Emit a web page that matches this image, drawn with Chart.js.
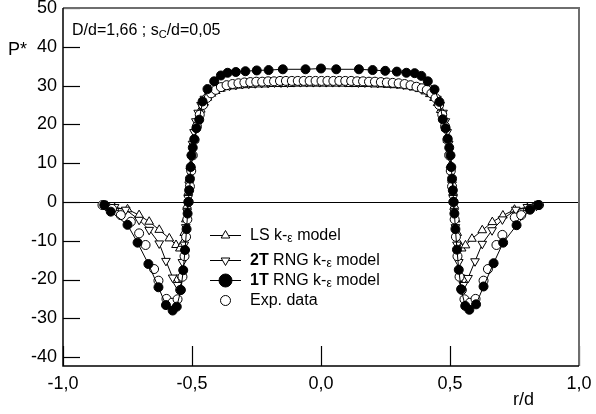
<!DOCTYPE html>
<html>
<head>
<meta charset="utf-8">
<script src="https://cdn.jsdelivr.net/npm/chart.js@4/dist/chart.umd.min.js"></script>
<style>
html,body{margin:0;padding:0;background:#fff;}
#wrap{width:596px;height:414px;position:relative;}
</style>
</head>
<body>
<div id="wrap"><canvas id="c" width="596" height="414"></canvas></div>
<script>
// ---- tick values / labels ----
const xTickValues = [-1, -0.5, 0, 0.5, 1];
const yTickValues = [50, 40, 30, 20, 10, 0, -10, -20, -30, -40];
const titleMain = "D/d=1,66 ; s";
const titleSub = "C";
const titleRest = "/d=0,05";
const yAxisTitle = "P*";
const xAxisTitle = "r/d";

// ---- 1T RNG k-eps model (filled circles) ----
const r1T = [-0.840,-0.815,-0.750,-0.711,-0.669,-0.630,-0.601,-0.575,-0.559,-0.543,-0.534,-0.527,-0.521,-0.517,-0.514,-0.511,-0.508,-0.505,-0.502,-0.497,-0.491,-0.483,-0.472,-0.459,-0.440,-0.414,-0.388,-0.362,-0.330,-0.293,-0.249,-0.203,-0.148,-0.060,0.000,0.059,0.147,0.200,0.249,0.294,0.331,0.363,0.389,0.414,0.440,0.459,0.472,0.483,0.491,0.497,0.502,0.505,0.508,0.511,0.514,0.517,0.521,0.527,0.534,0.543,0.559,0.575,0.601,0.630,0.669,0.706,0.758,0.810,0.842];
const P1T = [-0.8,-2.5,-5.9,-10.5,-16.0,-22.0,-26.6,-28.0,-27.0,-22.7,-17.6,-12.4,-7.0,-3.0,0.0,3.0,6.0,9.0,12.0,14.0,16.2,19.0,21.2,25.9,29.1,31.1,32.6,33.3,33.5,33.7,33.9,34.0,34.2,34.2,34.4,34.2,34.2,34.0,33.8,33.6,33.3,33.2,32.5,31.1,29.0,25.8,21.3,19.0,16.3,14.0,12.0,9.0,6.0,3.0,0.0,-3.0,-7.0,-12.3,-17.5,-22.5,-26.8,-27.8,-26.4,-21.8,-15.8,-10.5,-6.0,-2.0,-0.8];

// ---- 2T RNG k-eps model (down triangles) ----
const r2T = [-0.835,-0.800,-0.757,-0.705,-0.666,-0.627,-0.601,-0.575,-0.556,-0.545,-0.537,-0.530,-0.524,-0.519,-0.515,-0.511,-0.507,-0.503,-0.498,-0.492,-0.485,-0.476,-0.465,-0.452,-0.437,-0.420,-0.400,-0.378,-0.355,-0.330,-0.305,-0.280,-0.255,-0.230,-0.205,-0.180,-0.155,-0.130,-0.105,-0.080,-0.055,-0.030,-0.005,
  0.020,0.045,0.070,0.095,0.120,0.145,0.170,0.195,0.220,0.245,0.270,0.295,0.320,0.345,0.370,0.393,0.415,0.433,0.449,0.462,0.473,0.482,0.489,0.495,0.500,0.504,0.508,0.512,0.516,0.521,0.527,0.534,0.542,0.552,0.570,0.597,0.625,0.663,0.703,0.755,0.800,0.835];
const P2T = [-1.0,-1.3,-2.0,-4.6,-7.2,-10.7,-15.2,-19.5,-21.4,-19.5,-15.5,-11.0,-6.5,-2.5,1.0,4.5,8.0,11.5,15.0,18.0,20.8,23.0,25.0,26.6,27.8,28.7,29.3,29.7,30.0,30.2,30.4,30.5,30.6,30.7,30.7,30.8,30.8,30.8,30.9,30.9,30.9,30.9,30.9,
  30.9,30.9,30.9,30.9,30.9,30.8,30.8,30.8,30.7,30.7,30.6,30.5,30.3,30.1,29.8,29.3,28.7,27.8,26.6,25.0,23.0,20.8,18.0,15.0,11.5,8.0,4.5,1.0,-2.5,-6.5,-11.0,-15.5,-19.5,-21.4,-19.6,-15.3,-10.8,-7.3,-4.5,-2.0,-1.3,-1.0];

// ---- LS k-eps model (up triangles) ----
const rLS = [-0.830,-0.800,-0.750,-0.705,-0.666,-0.627,-0.588,-0.562,-0.547,-0.537,-0.530,-0.524,-0.519,-0.514,-0.509,-0.504,-0.499,-0.493,-0.486,-0.477,-0.466,-0.453,-0.440,-0.425,-0.408,-0.388,-0.366,-0.342,-0.317,-0.292,-0.267,-0.242,-0.217,-0.192,-0.167,-0.142,-0.117,-0.092,-0.067,-0.042,-0.017,
  0.008,0.033,0.058,0.083,0.108,0.133,0.158,0.183,0.208,0.233,0.258,0.283,0.308,0.333,0.358,0.382,0.404,0.422,0.438,0.452,0.464,0.475,0.484,0.491,0.497,0.502,0.507,0.512,0.517,0.522,0.528,0.535,0.545,0.560,0.585,0.625,0.664,0.705,0.750,0.800,0.830];
const PLS = [-1.0,-1.6,-1.9,-3.4,-5.1,-7.2,-9.4,-11.1,-12.0,-10.8,-8.0,-4.5,-1.0,2.5,6.0,9.5,13.0,16.0,19.0,21.5,23.8,25.6,26.9,27.9,28.6,29.2,29.6,29.8,30.0,30.1,30.2,30.3,30.3,30.4,30.4,30.4,30.4,30.5,30.5,30.5,30.5,
  30.5,30.5,30.5,30.5,30.4,30.4,30.4,30.4,30.3,30.3,30.2,30.1,30.0,29.8,29.5,29.1,28.5,27.8,26.8,25.5,23.7,21.4,19.0,16.0,13.0,9.5,6.0,2.5,-1.0,-4.5,-8.0,-10.8,-12.0,-11.2,-9.5,-7.3,-5.2,-3.5,-2.0,-1.6,-1.0];

// ---- Experimental data (open circles) ----
const rExp = [-0.847,-0.810,-0.776,-0.737,-0.705,-0.680,-0.647,-0.630,-0.599,-0.577,-0.556,-0.546,-0.537,-0.529,-0.523,-0.518,-0.513,-0.508,-0.503,-0.497,-0.490,-0.481,-0.470,-0.457,-0.442,-0.426,-0.408,-0.388,-0.366,-0.343,-0.320,-0.297,-0.274,-0.251,-0.228,-0.205,-0.182,-0.159,-0.136,-0.113,-0.090,-0.067,-0.044,-0.021,
  0.002,0.025,0.048,0.071,0.094,0.117,0.140,0.163,0.186,0.209,0.232,0.255,0.278,0.301,0.324,0.347,0.370,0.391,0.410,0.428,0.444,0.458,0.470,0.481,0.490,0.497,0.503,0.508,0.513,0.518,0.523,0.529,0.537,0.546,0.556,0.577,0.599,0.630,0.647,0.680,0.703,0.751,0.776,0.810,0.845];
const PExp = [-0.8,-1.8,-3.4,-5.1,-8.1,-11.1,-17.3,-20.3,-25.0,-26.0,-25.1,-22.7,-19.3,-14.0,-9.0,-4.5,0.0,4.0,8.0,12.0,16.0,19.5,22.5,25.0,26.8,28.0,28.9,29.6,30.1,30.4,30.6,30.8,30.9,31.0,31.0,31.1,31.1,31.2,31.2,31.2,31.2,31.2,31.2,31.2,
  31.2,31.2,31.2,31.2,31.2,31.2,31.1,31.1,31.0,31.0,30.9,30.8,30.7,30.6,30.4,30.1,29.7,29.3,28.9,28.0,26.8,25.0,22.5,19.5,16.0,12.0,8.0,4.0,0.0,-4.5,-9.0,-14.0,-19.3,-22.7,-25.1,-26.0,-25.0,-20.3,-17.3,-11.1,-8.5,-4.0,-3.4,-1.8,-0.8];

// ---- legend entries ----
const legendLabels = [
  [{t:"LS k-"},{t:"\u03b5",sub:true},{t:" model"}],
  [{t:"2T",bold:true},{t:" RNG k-"},{t:"\u03b5",sub:true},{t:" model"}],
  [{t:"1T",bold:true},{t:" RNG k-"},{t:"\u03b5",sub:true},{t:" model"}],
  [{t:"Exp. data"}]
];

const FONT = "'Liberation Sans', Arial, sans-serif";
function zip(xs, ys){ return xs.map((x,i)=>({x:x, y:ys[i]})); }

const datasets = [
  {label:"1T RNG k-e model", data:zip(r1T,P1T), showLine:true, borderColor:"#000", borderWidth:1,
   pointStyle:"circle", pointRadius:4.5, pointBackgroundColor:"#000", pointBorderColor:"#000", pointBorderWidth:1, order:1},
  {label:"2T RNG k-e model", data:zip(r2T,P2T), showLine:true, borderColor:"#000", borderWidth:1,
   pointStyle:"triangle", pointRotation:180, pointRadius:5, pointBackgroundColor:"#fff", pointBorderColor:"#000", pointBorderWidth:1, order:3},
  {label:"LS k-e model", data:zip(rLS,PLS), showLine:true, borderColor:"#000", borderWidth:1,
   pointStyle:"triangle", pointRotation:0, pointRadius:5, pointBackgroundColor:"#fff", pointBorderColor:"#000", pointBorderWidth:1, order:4},
  {label:"Exp. data", data:zip(rExp,PExp), showLine:false,
   pointStyle:"circle", pointRadius:4.5, pointBackgroundColor:"#fff", pointBorderColor:"#000", pointBorderWidth:1, order:2}
];

function drawMarker(ctx, style, x, y, r, fill, rot){
  ctx.save();
  ctx.beginPath();
  if(style==="circle"){
    ctx.arc(x,y,r,0,Math.PI*2);
  } else {
    let rad = (rot||0)*Math.PI/180;
    for(let k=0;k<3;k++){
      const px = x + Math.sin(rad)*r, py = y - Math.cos(rad)*r;
      if(k===0) ctx.moveTo(px,py); else ctx.lineTo(px,py);
      rad += Math.PI*2/3;
    }
    ctx.closePath();
  }
  ctx.fillStyle = fill; ctx.fill();
  ctx.strokeStyle = "#000"; ctx.lineWidth = 1; ctx.stroke();
  ctx.restore();
}

const framePlugin = {
  id:"frame",
  beforeDatasetsDraw(chart){
    const ctx = chart.ctx, a = chart.chartArea, ys = chart.scales.y;
    const y0 = Math.round(ys.getPixelForValue(0))+0.5;
    ctx.save();
    ctx.strokeStyle="#000"; ctx.lineWidth=1;
    ctx.beginPath(); ctx.moveTo(a.left,y0); ctx.lineTo(a.right,y0); ctx.stroke();
    ctx.restore();
  },
  afterDraw(chart){
    const ctx = chart.ctx, a = chart.chartArea, xs = chart.scales.x, ys = chart.scales.y;
    ctx.save();
    // inner tick marks
    ctx.strokeStyle="#000"; ctx.lineWidth=1.2;
    yTickValues.forEach(v=>{
      const py = Math.round(ys.getPixelForValue(v))+0.5;
      ctx.beginPath(); ctx.moveTo(a.left,py); ctx.lineTo(a.left+17,py); ctx.stroke();
    });
    xTickValues.forEach(v=>{
      const px = Math.round(xs.getPixelForValue(v))+0.5;
      ctx.beginPath(); ctx.moveTo(px,a.bottom); ctx.lineTo(px,a.bottom-20); ctx.stroke();
    });
    // frame: top & right grey, left & bottom black
    ctx.strokeStyle="#6e6e6e"; ctx.lineWidth=2;
    ctx.beginPath(); ctx.moveTo(a.left,a.top); ctx.lineTo(a.right,a.top); ctx.lineTo(a.right,a.bottom); ctx.stroke();
    ctx.strokeStyle="#000"; ctx.lineWidth=1.5;
    ctx.beginPath(); ctx.moveTo(a.left,a.top); ctx.lineTo(a.left,a.bottom); ctx.lineTo(a.right,a.bottom); ctx.stroke();

    // texts
    ctx.fillStyle="#000"; ctx.textBaseline="alphabetic"; ctx.textAlign="left";
    ctx.font = "16px "+FONT;
    let tx = 72, ty = 35;
    ctx.fillText(titleMain, tx, ty); tx += ctx.measureText(titleMain).width;
    ctx.font = "11px "+FONT;
    ctx.fillText(titleSub, tx, ty+3); tx += ctx.measureText(titleSub).width;
    ctx.font = "16px "+FONT;
    ctx.fillText(titleRest, tx, ty);
    ctx.font = "18px "+FONT;
    ctx.fillText(yAxisTitle, 8, 55);
    ctx.fillText(xAxisTitle, 513, 405);

    // legend
    const rowsY = [235, 260, 280, 300];
    const legendDs = [datasets[2], datasets[1], datasets[0], datasets[3]];
    const mR = [5, 5, 6.5, 5];
    legendDs.forEach((ds,i)=>{
      const yy = rowsY[i];
      if(ds.showLine){
        ctx.strokeStyle="#000"; ctx.lineWidth=1;
        ctx.beginPath(); ctx.moveTo(210,yy+0.5); ctx.lineTo(241,yy+0.5); ctx.stroke();
      }
      drawMarker(ctx, ds.pointStyle, 225.5, yy+0.5, mR[i], ds.pointBackgroundColor, ds.pointRotation);
      let lx = 250;
      ctx.textBaseline="middle";
      legendLabels[i].forEach(seg=>{
        if(seg.sub){
          ctx.font = "12px "+FONT;
          ctx.fillText(seg.t, lx, yy+4);
        } else {
          ctx.font = (seg.bold?"bold ":"")+"16px "+FONT;
          ctx.fillText(seg.t, lx, yy+1);
        }
        lx += ctx.measureText(seg.t).width;
      });
    });
    ctx.restore();
  }
};

new Chart(document.getElementById("c"), {
  type:"scatter",
  data:{datasets:datasets},
  plugins:[framePlugin],
  options:{
    responsive:false,
    animation:false,
    events:[],
    layout:{padding:{top:8,right:17,left:0,bottom:0}},
    plugins:{legend:{display:false}, tooltip:{enabled:false}, title:{display:false}},
    scales:{
      x:{
        type:"linear", position:"bottom", min:-1, max:1,
        afterBuildTicks(s){ s.ticks = xTickValues.map(v=>({value:v})); },
        afterFit(s){ s.height = 48; s.paddingLeft = 0; s.paddingRight = 0; },
        grid:{display:false, drawTicks:false},
        border:{display:false},
        ticks:{padding:7, color:"#000", maxRotation:0, autoSkip:false,
          font:{family:FONT, size:18},
          callback:(v)=>Number(v).toFixed(1).replace(".",",")}
      },
      y:{
        type:"linear", position:"left", min:-42.3, max:50,
        afterBuildTicks(s){ s.ticks = yTickValues.map(v=>({value:v})); },
        afterFit(s){ s.width = 63; s.paddingTop = 0; s.paddingBottom = 0; },
        grid:{display:false, drawTicks:false},
        border:{display:false},
        ticks:{padding:6, color:"#000", autoSkip:false,
          font:{family:FONT, size:18},
          callback:(v)=>String(v)}
      }
    }
  }
});
</script>
</body>
</html>
